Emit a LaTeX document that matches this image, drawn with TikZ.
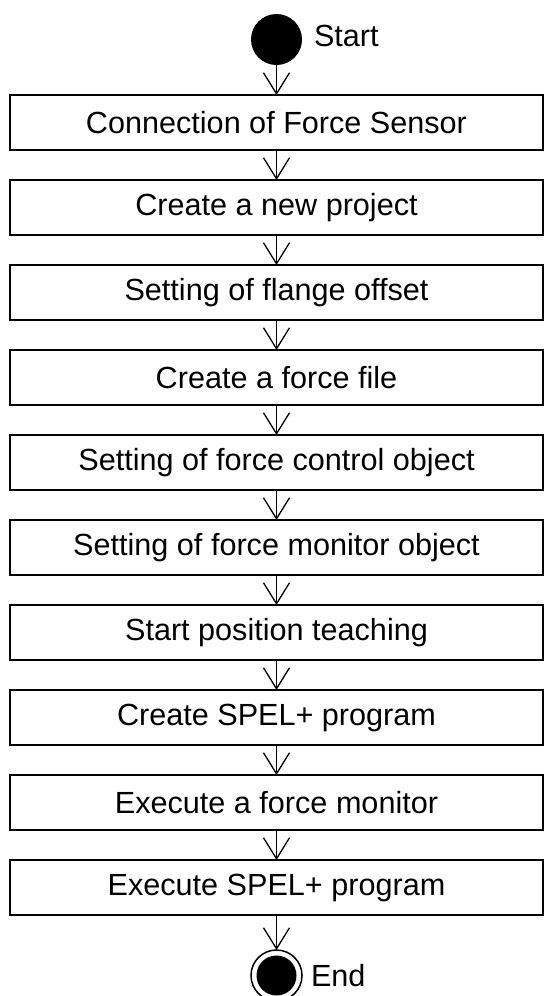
\documentclass[tikz,border=0pt]{standalone}
\usepackage{fontspec}
\setmainfont{Liberation Sans}
\usetikzlibrary{arrows.meta, positioning}

\begin{document}
\begin{tikzpicture}[
      font=\fontsize{15.3}{18}\selectfont,
      node distance=15pt,
      stepbox/.style={
        draw=black,
        line width=1pt,
        minimum width=266.5pt,
        minimum height=27.5pt,
        inner sep=0pt,
        outer sep=0pt,
        align=center
      },
      startdot/.style={
        circle,
        fill=black,
        minimum size=25.5pt,
        inner sep=0pt,
        outer sep=0pt
      },
      enddot/.style={
        circle,
        draw=black,
        line width=0.75pt,
        minimum size=25.5pt,
        inner sep=0pt,
        outer sep=0pt,
        path picture={\fill[black] (path picture bounding box.center) circle (10pt);}
      },
      flow/.style={-{Straight Barb[length=10.5pt,width=13pt]}, draw=black, line width=0.65pt}
    ]

    \useasboundingbox (0,0) rectangle (272pt,-498pt);

    % Start and step nodes
    \node[startdot] (start) at (138.25pt,-19.75pt) {};
    \node[right=2.5pt of start, yshift=2pt] (startlabel) {Start};
    \node[stepbox, below=of start] (conn) {Connection of Force Sensor};
    \node[stepbox, below=of conn] (newproj) {Create a new project};
    \node[stepbox, below=of newproj] (flange) {Setting of flange offset};
    \node[stepbox, below=of flange] (forcefile) {Create a force file};
    \node[stepbox, below=of forcefile] (ctrlobj) {Setting of force control object};
    \node[stepbox, below=of ctrlobj] (monobj) {Setting of force monitor object};
    \node[stepbox, below=of monobj] (teach) {Start position teaching};
    \node[stepbox, below=of teach] (spelprog) {Create SPEL+ program};
    \node[stepbox, below=of spelprog] (execmon) {Execute a force monitor};
    \node[stepbox, below=of execmon] (execspel) {Execute SPEL+ program};

    % End node
    \node[enddot, below=17.5pt of execspel] (finish) {};
    \node[right=1pt of finish] (finishlabel) {End};

    % Flow arrows
    \draw[flow] (start) -- (conn);
    \draw[flow] (conn) -- (newproj);
    \draw[flow] (newproj) -- (flange);
    \draw[flow] (flange) -- (forcefile);
    \draw[flow] (forcefile) -- (ctrlobj);
    \draw[flow] (ctrlobj) -- (monobj);
    \draw[flow] (monobj) -- (teach);
    \draw[flow] (teach) -- (spelprog);
    \draw[flow] (spelprog) -- (execmon);
    \draw[flow] (execmon) -- (execspel);
    \draw[flow] (execspel) -- (finish);

  \end{tikzpicture}
\end{document}
